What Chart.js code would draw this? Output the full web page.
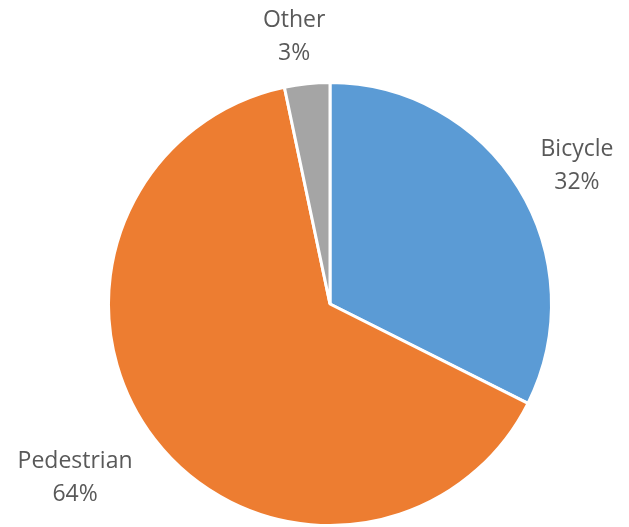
<!DOCTYPE html>
<html>
<head>
<meta charset="utf-8">
<script src="https://cdn.jsdelivr.net/npm/chart.js@4/dist/chart.umd.min.js"></script>
<style>
  html, body { margin: 0; padding: 0; background: #fff; }
  #wrap { width: 629px; height: 527px; }
</style>
</head>
<body>
<div id="wrap"><canvas id="pieCanvas"></canvas></div>
<script>
const categories = ["Bicycle", "Pedestrian", "Other"];
const shares = [32.4, 64.3, 3.3];
const pctLabels = ["32%", "64%", "3%"];
const colors = ["#5b9bd5", "#ed7d31", "#a5a5a5"];

// draws Excel-style "outside end" labels next to each slice
const outsideLabels = {
    id: 'outsideLabels',
    afterDatasetsDraw(chart) {
        const ctx = chart.ctx;
        const meta = chart.getDatasetMeta(0);
        ctx.save();
        ctx.font = '23px "Open Sans", sans-serif';
        ctx.fillStyle = '#595959';
        const lineH = 33;
        meta.data.forEach((arc, i) => {
            const mid = (arc.startAngle + arc.endAngle) / 2;
            const cx = Math.cos(mid), cy = Math.sin(mid);
            const r = arc.outerRadius;
            const px = arc.x + cx * r;
            const py = arc.y + cy * r;
            const lines = [categories[i], pctLabels[i]];
            const w = Math.max(...lines.map(t => ctx.measureText(t).width));
            const h = lines.length * lineH;
            let midX, midY;
            if (cx > 0.3) midX = px + 22 + w / 2;
            else if (cx < -0.3) midX = px - 22 - w / 2;
            else midX = px + cx * w * 2;
            if (cy < -0.9) midY = py - 14 - h / 2;
            else if (cy > 0.9) midY = py + 14 + h / 2;
            else midY = py + cy * 53 + 6;
            ctx.textAlign = 'center';
            ctx.textBaseline = 'middle';
            lines.forEach((t, k) => {
                ctx.fillText(t, midX, midY - h / 2 + lineH * (k + 0.5));
            });
        });
        ctx.restore();
    }
};

new Chart(document.getElementById('pieCanvas'), {
    type: 'pie',
    data: {
        labels: categories,
        datasets: [{
            data: shares,
            backgroundColor: colors,
            borderColor: '#ffffff',
            borderWidth: 3
        }]
    },
    options: {
        responsive: true,
        maintainAspectRatio: false,
        animation: false,
        layout: { padding: { top: 81, bottom: 0, left: 106, right: 75 } },
        plugins: {
            legend: { display: false },
            tooltip: { enabled: false }
        }
    },
    plugins: [outsideLabels]
});
</script>
</body>
</html>
